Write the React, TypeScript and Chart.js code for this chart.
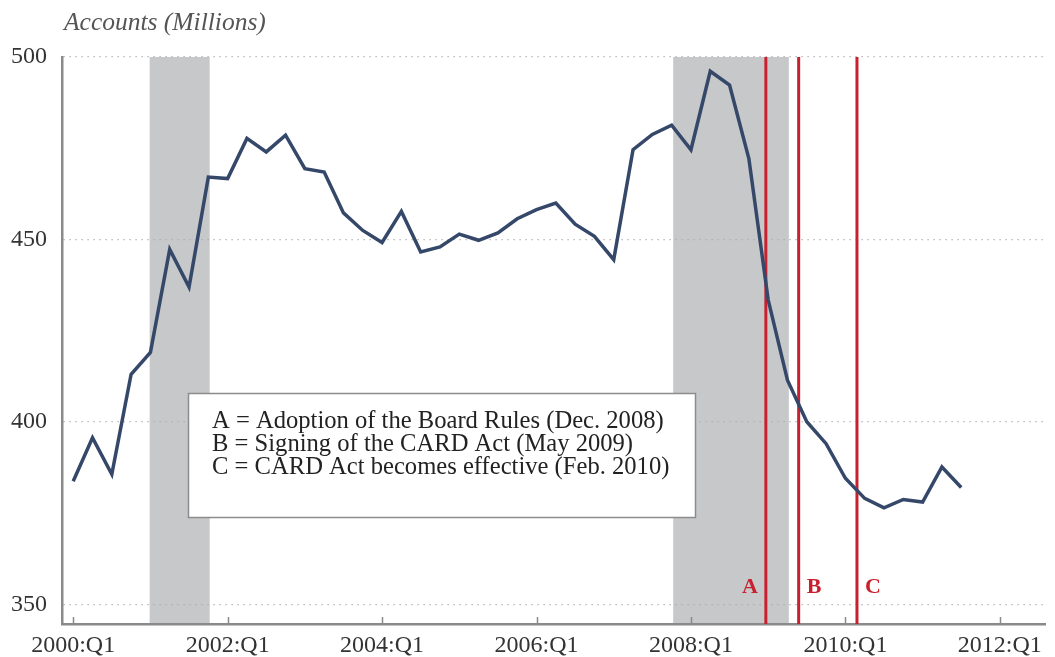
import { useEffect, useRef } from "react";
import { Chart, registerables } from "chart.js";

Chart.register(...registerables);

// Quarterly credit card accounts, millions, starting 2000:Q1
const accounts = [
  383.8, 395.7, 385.7, 413.1, 419.1, 447.3, 437.0, 467.1, 466.7, 477.7,
  474.0, 478.6, 469.4, 468.5, 457.3, 452.5, 449.2, 457.7, 446.6, 448.0,
  451.5, 449.8, 451.8, 455.7, 458.2, 460.0, 454.2, 450.9, 444.5, 474.6,
  478.8, 481.3, 474.6, 496.1, 492.3, 472.2, 433.5, 411.5, 400.1, 394.1,
  384.6, 379.1, 376.5, 378.8, 378.1, 387.7, 382.1,
];
// quarter index (0 = 2000:Q1)
const quarterIndex = accounts.map((_, i) => i);

const xTickValues = [0, 8, 16, 24, 32, 40, 48];
const xTickLabels = ["2000:Q1", "2002:Q1", "2004:Q1", "2006:Q1", "2008:Q1", "2010:Q1", "2012:Q1"];
const yTickValues = [350, 400, 450, 500];

// Recession shading (in quarter index units)
const recessionStarts = [3.96, 31.08];
const recessionEnds = [7.07, 37.07];

// Policy events
const eventLetters = ["A", "B", "C"];
const eventPositions = [35.88, 37.58, 40.6];
const eventLetterSide = ["left", "right", "right"];

const legendLines = [
  "A = Adoption of the Board Rules (Dec. 2008)",
  "B = Signing of the CARD Act (May 2009)",
  "C = CARD Act becomes effective (Feb. 2010)",
];
const yAxisTitle = "Accounts (Millions)";

const SERIF = "'Liberation Serif', 'DejaVu Serif', serif";

export default function App() {
  const ref = useRef<HTMLCanvasElement | null>(null);

  useEffect(() => {
    if (!ref.current) return;

    const overlay = {
      id: "overlay",
      beforeDraw(chart: any) {
        const { ctx, chartArea: a } = chart;
        const x = chart.scales.x;
        ctx.save();
        ctx.fillStyle = "#c7c8ca";
        recessionStarts.forEach((s, i) => {
          const x1 = x.getPixelForValue(s);
          const x2 = x.getPixelForValue(recessionEnds[i]);
          ctx.fillRect(x1, a.top, x2 - x1, a.bottom - a.top);
        });
        ctx.restore();
      },
      beforeDatasetsDraw(chart: any) {
        const { ctx, chartArea: a } = chart;
        const x = chart.scales.x;
        ctx.save();
        // x tick marks pointing up into the plot
        ctx.strokeStyle = "#8a8a8a";
        ctx.lineWidth = 1.5;
        xTickValues.forEach((v) => {
          const px = Math.round(x.getPixelForValue(v)) + 0.5;
          ctx.beginPath();
          ctx.moveTo(px, a.bottom);
          ctx.lineTo(px, a.bottom - 7);
          ctx.stroke();
        });
        // event lines
        ctx.strokeStyle = "#c8202f";
        ctx.lineWidth = 3;
        ctx.fillStyle = "#c8202f";
        ctx.font = "bold 22px " + SERIF;
        ctx.textBaseline = "middle";
        eventPositions.forEach((v, i) => {
          const px = x.getPixelForValue(v);
          ctx.beginPath();
          ctx.moveTo(px, a.top);
          ctx.lineTo(px, a.bottom);
          ctx.stroke();
          if (eventLetterSide[i] === "left") {
            ctx.textAlign = "right";
            ctx.fillText(eventLetters[i], px - 8, a.bottom - 37);
          } else {
            ctx.textAlign = "left";
            ctx.fillText(eventLetters[i], px + 8, a.bottom - 37);
          }
        });
        ctx.restore();
      },
      afterDatasetsDraw(chart: any) {
        const { ctx } = chart;
        ctx.save();
        // legend box
        const bx = 188.5, by = 393.5, bw = 507, bh = 124;
        ctx.fillStyle = "#ffffff";
        ctx.fillRect(bx, by, bw, bh);
        ctx.strokeStyle = "#8c8c8c";
        ctx.lineWidth = 1.5;
        ctx.strokeRect(bx, by, bw, bh);
        ctx.fillStyle = "#222222";
        ctx.font = "24.6px " + SERIF;
        ctx.textAlign = "left";
        ctx.textBaseline = "middle";
        legendLines.forEach((t, i) => {
          ctx.fillText(t, 212, 422 + i * 23);
        });
        // y-axis title
        ctx.fillStyle = "#555555";
        ctx.font = "italic 25.5px " + SERIF;
        ctx.textBaseline = "middle";
        ctx.fillText(yAxisTitle, 64, 23);
        ctx.restore();
      },
    };

    const chart = new Chart(ref.current, {
      type: "line",
      data: {
        datasets: [
          {
            data: quarterIndex.map((q, i) => ({ x: q, y: accounts[i] })),
            borderColor: "#354869",
            borderWidth: 3.5,
            pointRadius: 0,
            tension: 0,
            fill: false,
          },
        ],
      },
      options: {
        animation: false,
        responsive: false,
        devicePixelRatio: 1,
        layout: { padding: { top: 57, right: 10, left: 0, bottom: 0 } },
        plugins: {
          legend: { display: false },
          tooltip: { enabled: false },
          title: { display: false },
        },
        scales: {
          x: {
            type: "linear",
            min: -0.58,
            max: 50.34,
            afterBuildTicks: (scale: any) => {
              scale.ticks = xTickValues.map((v) => ({ value: v }));
            },
            afterFit: (scale: any) => {
              scale.height = 33;
            },
            grid: { display: false, drawTicks: false },
            border: { display: true, color: "#8a8a8a", width: 2.5 },
            ticks: {
              autoSkip: false,
              maxRotation: 0,
              minRotation: 0,
              padding: 7,
              color: "#333333",
              font: { family: SERIF, size: 24 },
              callback: (v: any) => {
                const idx = xTickValues.indexOf(Number(v));
                return idx >= 0 ? xTickLabels[idx] : "";
              },
            },
          },
          y: {
            type: "linear",
            min: 344.7,
            max: 500,
            afterBuildTicks: (scale: any) => {
              scale.ticks = yTickValues.map((v) => ({ value: v }));
            },
            afterFit: (scale: any) => {
              scale.width = 62;
            },
            grid: { display: true, drawTicks: false, color: "#a8a8a8", lineWidth: 1.2 },
            border: { display: true, color: "#8a8a8a", width: 2.5, dash: [1.2, 4.8] },
            ticks: {
              padding: 15,
              color: "#333333",
              font: { family: SERIF, size: 24 },
            },
          },
        },
      },
      plugins: [overlay],
    });

    return () => chart.destroy();
  }, []);

  return (
    <div style={{ position: "fixed", left: 0, top: 0, width: 1055, height: 657, background: "#fff" }}>
      <canvas ref={ref} width={1055} height={657} style={{ width: 1055, height: 657 }} />
    </div>
  );
}
